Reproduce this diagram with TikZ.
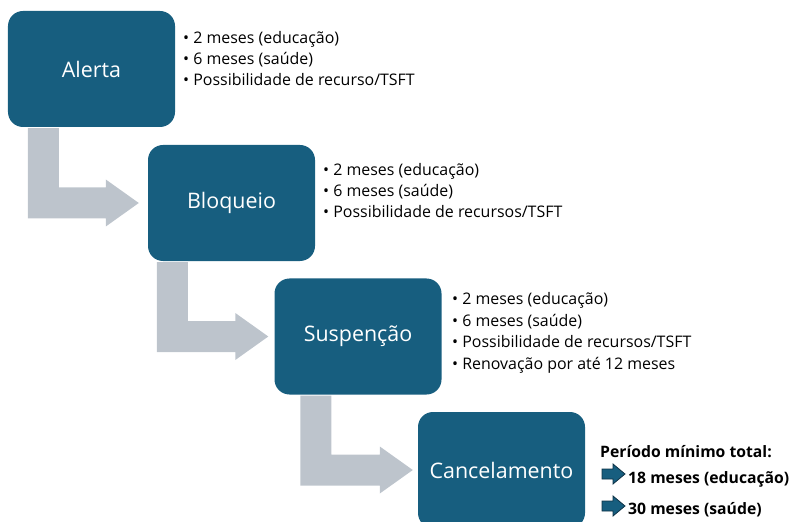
\documentclass[tikz,border=0pt]{standalone}
\usepackage{fontspec}
\setmainfont{Open Sans}
\usetikzlibrary{calc}
\definecolor{azulfase}{RGB}{23,94,127}
\definecolor{cinzadegrau}{RGB}{189,196,204}
\definecolor{azulescuro}{RGB}{14,50,70}

\begin{document}
\begin{tikzpicture}[x=1bp,y=-1bp,
  fase/.style={fill=azulfase,rounded corners=15bp,minimum width=167bp,minimum height=116bp,
    inner sep=0pt,text=white,font=\fontsize{21.5}{26}\selectfont},
  lista/.style={anchor=base west,align=left,inner sep=0pt,font=\fontsize{16}{21.5}\selectfont},
  total/.style={anchor=base west,inner sep=0pt,font=\bfseries\fontsize{15.8}{18}\selectfont},
  degrau/.style={fill=cinzadegrau},
  setinha/.style={fill=azulfase,draw=azulescuro,line width=0.8bp,line join=miter}]
\useasboundingbox (0,0) rectangle (792,522);
% fases
\node[fase] (alerta) at (91.5,69) {Alerta};
\node[fase] (bloqueio) at (231.5,203) {Bloqueio};
\node[fase] (suspencao) at (358,336.5) {Suspenção};
\node[fase] (cancelamento) at (501.5,470) {Cancelamento};
% degraus
\foreach \de/\para/\dx/\gap in {alerta/bloqueio/20/9,bloqueio/suspencao/9/6,suspencao/cancelamento/26/5}{
  \coordinate (ponta) at ($(\para.west)+(-\gap,0)$);
  \fill[degrau] ($(\de.south west)+(\dx,1)$) coordinate (canto) -- ++(31,0)
    |- ($(ponta)+(-33,-15.5)$) -- ++(0,-8) -- (ponta) -- ++(-33,23.5) -- ++(0,-8) -| (canto) -- cycle;
}
% prazos (ancorados na linha de base da ultima linha)
\node[lista] (prazoA) at (183,86) {• 2 meses (educação)\\• 6 meses (saúde)\\• Possibilidade de recurso/TSFT};
\node[lista] (prazoB) at (323,218) {• 2 meses (educação)\\• 6 meses (saúde)\\• Possibilidade de recursos/TSFT};
\node[lista] (prazoS) at (452,369) {• 2 meses (educação)\\• 6 meses (saúde)\\• Possibilidade de recursos/TSFT\\• Renovação por até 12 meses};
% total
\node[total] (titulo) at (600,457) {Período mínimo total:};
\coordinate (seta1) at (602,474);
\coordinate (seta2) at (602,506);
\foreach \s in {seta1,seta2}
  \draw[setinha] ($(\s)+(0,-5)$) -- ++(11,0) -- ++(0,-5) -- ++(12,10) -- ++(-12,10) -- ++(0,-5) -- ++(-11,0) -- cycle;
\node[total] (edu) at (628,483) {18 meses (educação)};
\node[total] (sau) at (628,514) {30 meses (saúde)};
\end{tikzpicture}
\end{document}
